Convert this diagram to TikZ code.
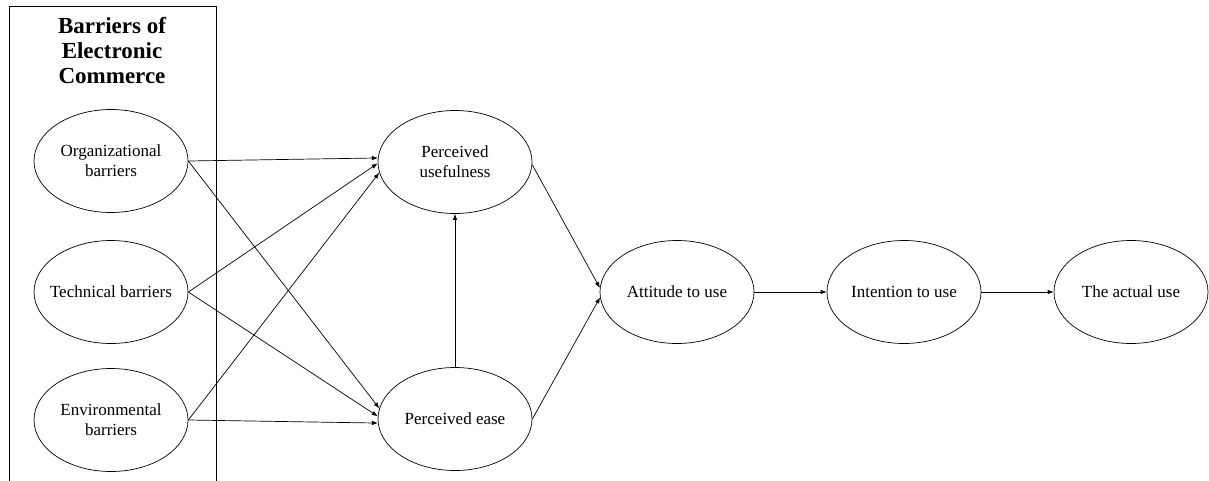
\documentclass[tikz,border=0pt]{standalone}
\usepackage{fontspec}
\setmainfont{Liberation Serif}
\usetikzlibrary{shapes.geometric,arrows.meta}
\begin{document}
\begin{tikzpicture}[x=1pt,y=-1pt,
  oval/.style={draw, ellipse, line width=0.7pt, minimum width=154pt, minimum height=103pt, inner sep=0pt,
    label={[align=center, font=\fontsize{17}{20}\selectfont, inner sep=0pt]center:#1}},
  conn/.style={line width=0.7pt, -{Latex[length=6pt,width=4.5pt]}},
  frame/.style={line width=0.8pt}]
\useasboundingbox (0,0) rectangle (1209,480);
\draw[frame] (9,481) -- (9,6) -- (216,6) -- (216,481);
\node[font=\bfseries\fontsize{23}{25}\selectfont, align=center, anchor=north] (title) at (112,14) {Barriers of\\Electronic\\Commerce};
\node[oval={Organizational\\barriers}] (org) at (111,161) {};
\node[oval={Technical barriers}] (tech) at (111,292) {};
\node[oval={Environmental\\barriers}] (env) at (111,420) {};
\node[oval={Perceived\\usefulness}] (pu) at (455,162) {};
\node[oval={Perceived ease}] (pe) at (455,419) {};
\node[oval={Attitude to use}] (att) at (677,292) {};
\node[oval={Intention to use}] (int) at (904,292) {};
\node[oval={The actual use}] (act) at (1131,292) {};
\draw[conn] (org.east) -- (pu.177);
\draw[conn] (tech.east) -- (pu.181.5);
\draw[conn] (env.east) -- (pu.188);
\draw[conn] (org.east) -- (pe.172);
\draw[conn] (tech.east) -- (pe.178);
\draw[conn] (env.east) -- (pe.183);
\draw[conn] (pe.north) -- (pu.south);
\draw[conn] (pu.358) -- (att.177);
\draw[conn] (pe.east) -- (att.184);
\draw[conn] (att.east) -- (int.west);
\draw[conn] (int.east) -- (act.west);
\end{tikzpicture}
\end{document}
